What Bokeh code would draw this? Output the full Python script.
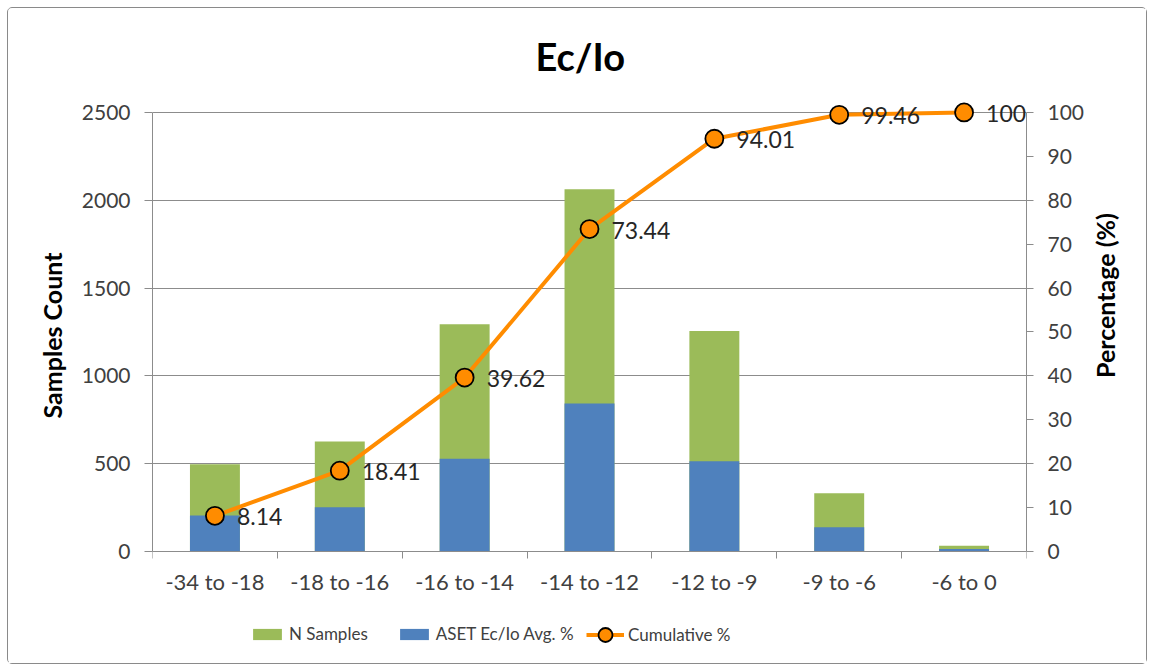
import math
from bokeh.plotting import figure
from bokeh.models import (Range1d, LinearAxis, FixedTicker, Legend, LegendItem,
                          ColumnDataSource, LabelSet)
from bokeh.core.properties import value
from bokeh.embed import file_html
from bokeh.resources import INLINE

# ---------------- data ----------------
categories = ["-34 to -18", "-18 to -16", "-16 to -14", "-14 to -12",
              "-12 to -9", "-9 to -6", "-6 to 0"]
n_samples = [497, 626, 1294, 2063, 1255, 332, 33]
aset_avg = [205, 252, 528, 843, 514, 138, 15]
cumulative = [8.14, 18.41, 39.62, 73.44, 94.01, 99.46, 100]
cum_labels = ["8.14", "18.41", "39.62", "73.44", "94.01", "99.46", "100"]
left_ticks = [0, 500, 1000, 1500, 2000, 2500]
right_ticks = [0, 10, 20, 30, 40, 50, 60, 70, 80, 90, 100]

# ---------------- styles / layout constants ----------------
FONT = "Lato"
GREEN = "#9BBB59"
BLUE = "#4F81BD"
ORANGE = "#FF8C00"
GRID = "#8C8C8C"
TXT = "#404040"
Y_LO, Y_HI = -592, 2568          # room below zero for category labels + legend
SCALE = right_ticks[-1] / left_ticks[-1]
NBSP = "\u00a0"

n = len(categories)
centers = [i + 0.5 for i in range(n)]
bounds = [float(i) for i in range(n + 1)]

src = ColumnDataSource(dict(x=centers, n=n_samples, a=aset_avg,
                            c=cumulative, lab=cum_labels))

p = figure(width=1138, height=655, output_backend="svg", toolbar_location=None,
           x_range=Range1d(0, n), y_range=Range1d(Y_LO, Y_HI),
           min_border_left=144, min_border_right=120,
           min_border_top=92, min_border_bottom=8)
p.styles = {"margin": "8px", "outline": "1px solid #8a8a8a",
            "border-radius": "4px"}
p.extra_y_ranges = {"pct": Range1d(Y_LO * SCALE, Y_HI * SCALE)}

p.title.text = "Ec/Io" + NBSP * 2
p.title.align = "center"
p.title.text_font = FONT
p.title.text_font_size = "38px"
p.title.text_font_style = "bold"
p.title.text_color = "#000000"
p.title.standoff = 44

p.outline_line_color = None
p.background_fill_color = "white"
p.border_fill_color = "white"

# grid
p.xgrid.visible = False
p.ygrid.ticker = FixedTicker(ticks=left_ticks)
p.ygrid.grid_line_color = GRID
p.ygrid.grid_line_width = 1

# bars (overlapping: N samples behind, ASET avg in front)
r_n = p.vbar(x="x", top="n", bottom=0, width=0.4, source=src,
             fill_color=GREEN, line_color=None)
r_a = p.vbar(x="x", top="a", bottom=0, width=0.4, source=src,
             fill_color=BLUE, line_color=None)

# cumulative line
r_l = p.line(x="x", y="c", source=src, y_range_name="pct",
             line_color=ORANGE, line_width=4)
r_c = p.scatter(x="x", y="c", source=src, y_range_name="pct", size=18,
                fill_color=ORANGE, line_color="black", line_width=1.8)
labels = LabelSet(x="x", y="c", text="lab", source=src, y_range_name="pct",
                  x_offset=22, y_offset=-1, text_baseline="middle",
                  text_align="left", text_font=value(FONT),
                  text_font_size="23px", text_color="#262626")
p.add_layout(labels)

# x axis drawn at y = 0 inside the frame
xa = p.xaxis[0]
xa.fixed_location = 0
xa.ticker = FixedTicker(ticks=centers, minor_ticks=bounds)
xa.major_label_overrides = {c: lab for c, lab in zip(centers, categories)}
xa.major_tick_out = 0
xa.major_tick_in = 0
xa.minor_tick_out = 7
xa.minor_tick_in = 0
xa.minor_tick_line_color = GRID
xa.axis_line_color = GRID
xa.major_label_text_font = FONT
xa.major_label_text_font_size = "22px"
xa.major_label_text_color = TXT
xa.major_label_standoff = 9

ya = p.yaxis[0]
ya.ticker = FixedTicker(ticks=left_ticks)
ya.bounds = (left_ticks[0], left_ticks[-1])
ya.axis_line_color = GRID
ya.major_tick_line_color = GRID
ya.major_tick_out = 8
ya.major_tick_in = 0
ya.minor_tick_line_color = None
ya.major_label_text_font = FONT
ya.major_label_text_font_size = "21px"
ya.major_label_text_color = TXT
ya.major_label_standoff = 14
ya.axis_label = NBSP * 14 + "Samples Count"
ya.axis_label_text_font = FONT
ya.axis_label_text_font_size = "25px"
ya.axis_label_text_font_style = "bold"
ya.axis_label_text_color = "#000000"
ya.axis_label_standoff = 12

ra = LinearAxis(y_range_name="pct", ticker=FixedTicker(ticks=right_ticks),
                bounds=(right_ticks[0], right_ticks[-1]))
ra.axis_line_color = GRID
ra.major_tick_line_color = GRID
ra.major_tick_out = 7
ra.major_tick_in = 0
ra.minor_tick_line_color = None
ra.major_label_text_font = FONT
ra.major_label_text_font_size = "21px"
ra.major_label_text_color = TXT
ra.major_label_standoff = 14
ra.axis_label = "Percentage (%)"
ra.axis_label_text_font = FONT
ra.axis_label_text_font_size = "25px"
ra.axis_label_text_font_style = "bold"
ra.axis_label_text_color = "#000000"
ra.axis_label_standoff = 18
ra.axis_label_orientation = math.pi / 2
p.add_layout(ra, "right")

legend_style = dict(orientation="horizontal", label_text_font=FONT,
                    label_text_font_size="17px", label_text_color=TXT,
                    label_standoff=4, spacing=28, padding=0, margin=0,
                    border_line_color=None, background_fill_alpha=0)
legend_bars = Legend(items=[LegendItem(label="N Samples", renderers=[r_n]),
                            LegendItem(label="ASET Ec/Io Avg. %", renderers=[r_a])],
                     location=(97, 11), glyph_width=36, glyph_height=14,
                     **legend_style)
legend_line = Legend(items=[LegendItem(label="Cumulative %", renderers=[r_l, r_c])],
                     location=(434, 3), glyph_width=38, glyph_height=35,
                     **legend_style)
p.add_layout(legend_bars, "center")
p.add_layout(legend_line, "center")

open("out.html", "w").write(file_html(p, INLINE))
